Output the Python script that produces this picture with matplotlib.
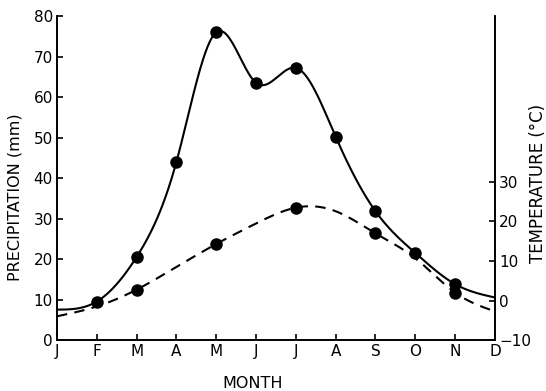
import numpy as np
import matplotlib
matplotlib.use("Agg")
import matplotlib.pyplot as plt

months = ["J", "F", "M", "A", "M", "J", "J", "A", "S", "O", "N", "D"]
precip = [7.5, 9.5, 20.5, 44.0, 76.0, 63.5, 67.2, 50.2, 31.8, 21.5, 13.8, 10.5]
precip_marked = [1, 2, 3, 4, 5, 6, 7, 8, 9, 10]
temp = [-4.0, -1.5, 2.75, 8.5, 14.3, 19.5, 23.5, 22.6, 17.0, 10.7, 2.0, -2.75]
temp_marked = [2, 4, 6, 8, 10]


def natural_spline(x, y, xs):
    x = np.asarray(x, float)
    y = np.asarray(y, float)
    n = len(x)
    h = np.diff(x)
    A = np.zeros((n, n))
    b = np.zeros(n)
    A[0, 0] = 1
    A[-1, -1] = 1
    for i in range(1, n - 1):
        A[i, i - 1] = h[i - 1]
        A[i, i] = 2 * (h[i - 1] + h[i])
        A[i, i + 1] = h[i]
        b[i] = 3 * ((y[i + 1] - y[i]) / h[i] - (y[i] - y[i - 1]) / h[i - 1])
    c = np.linalg.solve(A, b)
    out = np.empty_like(xs)
    for k, xv in enumerate(xs):
        i = min(max(np.searchsorted(x, xv) - 1, 0), n - 2)
        dx = xv - x[i]
        bi = (y[i + 1] - y[i]) / h[i] - h[i] * (2 * c[i] + c[i + 1]) / 3
        di = (c[i + 1] - c[i]) / (3 * h[i])
        out[k] = y[i] + bi * dx + c[i] * dx ** 2 + di * dx ** 3
    return out


x = np.arange(len(months))
xs = np.linspace(0, len(months) - 1, 600)

plt.rcParams['font.family'] = ['DejaVu Sans']
fig = plt.figure(figsize=(5.46, 3.91), dpi=100)
ax = fig.add_axes([0.1044, 0.1304, 0.802, 0.8286])
ax2 = ax.twinx()

ax.plot(xs, natural_spline(x, precip, xs), color="black", lw=1.5)
ax.plot(x[precip_marked], np.array(precip)[precip_marked], "o", color="black", ms=8)

ax2.plot(xs, natural_spline(x, temp, xs), color="black", lw=1.5, dashes=(5, 3.5))
ax2.plot(x[temp_marked], np.array(temp)[temp_marked], "o", color="black", ms=8)

ax.set_xlim(0, 11)
ax.set_ylim(0, 80)
ax2.set_ylim(-10, 72)
ax.set_xticks(x)
ax.set_xticklabels(months)
ax.set_yticks(range(0, 81, 10))
ax2.set_yticks(range(-10, 31, 10))
ax2.set_yticklabels(["\u221210", "0", "10", "20", "30"])

for a in (ax, ax2):
    a.spines["top"].set_visible(False)
    for s in a.spines.values():
        s.set_linewidth(1.2)
ax.tick_params(axis="both", direction="in", length=4, width=1.2, labelsize=11, pad=3)
ax2.tick_params(axis="y", direction="in", length=4, width=1.2, labelsize=11, pad=3)

fig.text(15 / 546, 1 - 197 / 391, "PRECIPITATION (mm)", fontsize=11.5,
         rotation=90, ha="center", va="center")
fig.text(538 / 546, 1 - 183 / 391, "TEMPERATURE (\u00b0C)", fontsize=12,
         rotation=90, ha="center", va="center")
fig.text(253 / 546, 1 - 383 / 391, "MONTH", fontsize=11.5, ha="center", va="center")

fig.savefig("out.png", dpi=100)
